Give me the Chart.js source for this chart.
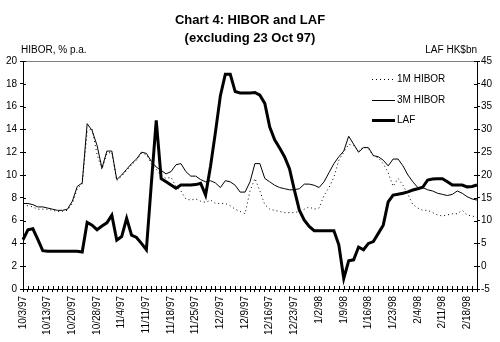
<!DOCTYPE html>
<html lang="en">
<head>
    <meta charset="UTF-8">
    <title>Chart 4: HIBOR and LAF</title>
    <script src="https://cdnjs.cloudflare.com/ajax/libs/Chart.js/4.4.0/chart.umd.min.js"></script>
    <style>
        html, body { margin: 0; padding: 0; background: #fff; }
        #chart4 { display: block; }
    </style>
</head>
<body>
    <canvas id="chart4" width="500" height="342"></canvas>

    <script>
        // trading days, 23 Oct 97 left out
        const dates = [
            '10/3/97', '10/6/97', '10/7/97', '10/8/97', '10/9/97', '10/13/97', '10/14/97', '10/15/97', '10/16/97', '10/17/97',
            '10/20/97', '10/21/97', '10/22/97', '10/24/97', '10/27/97', '10/28/97', '10/29/97', '10/30/97', '10/31/97',
            '11/3/97', '11/4/97', '11/5/97', '11/6/97', '11/7/97', '11/10/97', '11/11/97', '11/12/97', '11/13/97', '11/14/97',
            '11/17/97', '11/18/97', '11/19/97', '11/20/97', '11/21/97', '11/24/97', '11/25/97', '11/26/97', '11/27/97', '11/28/97',
            '12/1/97', '12/2/97', '12/3/97', '12/4/97', '12/5/97', '12/8/97', '12/9/97', '12/10/97', '12/11/97', '12/12/97',
            '12/15/97', '12/16/97', '12/17/97', '12/18/97', '12/19/97', '12/22/97', '12/23/97', '12/24/97', '12/29/97', '12/30/97', '12/31/97',
            '1/2/98', '1/5/98', '1/6/98', '1/7/98', '1/8/98', '1/9/98', '1/12/98', '1/13/98', '1/14/98', '1/15/98', '1/16/98',
            '1/19/98', '1/20/98', '1/21/98', '1/22/98', '1/23/98', '1/26/98', '1/27/98',
            '2/2/98', '2/3/98', '2/4/98', '2/5/98', '2/6/98', '2/9/98', '2/10/98', '2/11/98', '2/12/98', '2/13/98',
            '2/16/98', '2/17/98', '2/18/98', '2/19/98', '2/20/98'
        ];

        // % p.a.
        const hibor1m = [
            7.3, 7.3, 7.2, 7.0, 7.0, 7.0, 6.9, 6.8, 6.8, 6.9,
            7.5, 8.8, 9.2, 13.8, 14.1, 11.8, 10.5, 11.9, 12.0,
            9.5, 9.9, 10.4, 10.9, 11.3, 11.9, 11.8, 11.0, 10.5, 9.9,
            9.7, 9.8, 9.0, 8.6, 7.9, 7.8, 7.9, 7.7, 7.6, 7.8,
            7.5, 7.5, 7.5, 7.3, 7.0, 6.8, 6.6, 8.6, 9.7, 8.6,
            7.4, 7.0, 6.9, 6.8, 6.7, 6.7, 6.7, 6.8, 7.0, 7.2, 7.0,
            7.1, 8.2, 8.9, 9.8, 11.3, 12.0, 12.7, 12.6, 12.1, 12.5, 12.3,
            11.7, 11.5, 11.0, 10.2, 9.0, 9.7, 9.1,
            8.3, 7.4, 7.1, 6.9, 6.9, 6.7, 6.5, 6.4, 6.5, 6.6,
            6.6, 6.9, 6.5, 6.4, 6.3
        ];

        const hibor3m = [
            7.5, 7.5, 7.4, 7.2, 7.2, 7.1, 7.0, 6.9, 6.9, 7.0,
            7.7, 9.0, 9.3, 14.5, 13.9, 12.6, 10.6, 12.1, 12.1,
            9.6, 10.0, 10.5, 11.0, 11.4, 12.0, 11.9, 11.2, 10.7, 10.4,
            10.1, 10.3, 10.9, 11.0, 10.3, 9.9, 9.9, 9.6, 9.4, 9.5,
            9.3, 8.9, 9.5, 9.4, 9.1, 8.5, 8.5, 9.4, 11.0, 11.0,
            9.7, 9.4, 9.1, 8.9, 8.8, 8.7, 8.7, 8.8, 9.2, 9.2, 9.1,
            8.9, 9.4, 10.2, 11.0, 11.6, 12.1, 13.4, 12.7, 12.0, 12.4, 12.4,
            11.7, 11.6, 11.3, 10.8, 11.4, 11.4, 10.8,
            10.0, 9.4, 8.9, 8.9, 8.7, 8.6, 8.4, 8.3, 8.2, 8.3,
            8.6, 8.4, 8.1, 7.9, 7.8
        ];

        // HK$bn
        const laf = [
            5.8, 8.0, 8.2, 5.9, 3.4, 3.3, 3.3, 3.3, 3.3, 3.3,
            3.3, 3.3, 3.1, 9.6, 9.0, 8.0, 8.8, 9.5, 11.2,
            5.7, 6.5, 10.5, 6.8, 6.3, 5.0, 3.6, 18.0, 32.0, 19.2,
            18.5, 17.8, 17.1, 17.8, 17.8, 17.8, 17.9, 18.2, 15.6, 21.9,
            29.4, 37.4, 42.1, 42.1, 38.3, 38.0, 38.0, 38.0, 38.1, 37.5,
            35.7, 30.5, 27.7, 25.9, 24.0, 21.4, 16.7, 12.3, 10.1, 8.7, 7.8,
            7.8, 7.8, 7.8, 7.8, 4.7, -2.7, 1.2, 1.4, 4.2, 3.6, 5.0,
            5.4, 7.2, 9.0, 14.1, 15.6, 15.8, 16.0,
            16.3, 16.7, 17.0, 17.3, 18.9, 19.1, 19.2, 19.2, 18.5, 17.8,
            17.8, 17.8, 17.4, 17.5, 17.8
        ];

        const FONT = "'Liberation Sans', Arial, sans-serif";

        // tick marks cross the axis like in the original chart
        const crossTicks = {
            id: 'crossTicks',
            afterDatasetsDraw(chart) {
                const c = chart.ctx;
                const area = chart.chartArea;
                c.save();
                c.strokeStyle = '#000';
                c.lineWidth = 1;
                c.beginPath();
                const x = chart.scales.x;
                x.ticks.forEach((t, i) => {
                    const px = Math.round(x.getPixelForTick(i)) + 0.5;
                    c.moveTo(px, area.bottom);
                    c.lineTo(px, area.bottom - 3);
                });
                const y = chart.scales.y;
                y.ticks.forEach((t, i) => {
                    const py = Math.round(y.getPixelForTick(i)) + 0.5;
                    c.moveTo(area.left, py);
                    c.lineTo(area.left + 3, py);
                });
                const y2 = chart.scales.y2;
                y2.ticks.forEach((t, i) => {
                    const py = Math.round(y2.getPixelForTick(i)) + 0.5;
                    c.moveTo(area.right, py);
                    c.lineTo(area.right - 3, py);
                });
                c.stroke();
                c.restore();
            }
        };

        // unit labels above the axes and the legend box
        const labelsAndLegend = {
            id: 'labelsAndLegend',
            afterDraw(chart) {
                const c = chart.ctx;
                c.save();
                c.fillStyle = '#000';
                c.font = '10px ' + FONT;
                c.textBaseline = 'middle';
                c.textAlign = 'left';
                c.fillText('HIBOR, % p.a.', 21, 50);
                c.textAlign = 'right';
                c.fillText('LAF HK$bn', 477, 50);

                const rows = [79, 100, 120];
                c.textAlign = 'left';
                chart.data.datasets.forEach((ds, i) => {
                    c.beginPath();
                    c.strokeStyle = ds.borderColor;
                    c.lineWidth = ds.borderWidth;
                    c.setLineDash(ds.borderDash || []);
                    c.moveTo(372, rows[i] + 0.5);
                    c.lineTo(395, rows[i] + 0.5);
                    c.stroke();
                    c.setLineDash([]);
                    c.fillText(ds.label, 397, rows[i]);
                });
                c.restore();
            }
        };

        const ctx = document.getElementById('chart4').getContext('2d');
        const chart4 = new Chart(ctx, {
            type: 'line',
            data: {
                labels: dates,
                datasets: [
                    {
                        label: '1M HIBOR',
                        data: hibor1m,
                        borderColor: '#000',
                        borderWidth: 1,
                        borderDash: [1, 3],
                        yAxisID: 'y'
                    },
                    {
                        label: '3M HIBOR',
                        data: hibor3m,
                        borderColor: '#000',
                        borderWidth: 1,
                        yAxisID: 'y'
                    },
                    {
                        label: 'LAF',
                        data: laf,
                        borderColor: '#000',
                        borderWidth: 3,
                        yAxisID: 'y2'
                    }
                ]
            },
            options: {
                responsive: false,
                animation: false,
                layout: { padding: 0 },
                elements: {
                    point: { radius: 0 },
                    line: { tension: 0, fill: false }
                },
                plugins: {
                    legend: { display: false },
                    tooltip: { enabled: false },
                    title: {
                        display: true,
                        text: ['Chart 4: HIBOR and LAF', '(excluding 23 Oct 97)'],
                        color: '#000',
                        font: { family: FONT, size: 13, weight: 'bold', lineHeight: 1.4 },
                        padding: { top: 11, bottom: 13.6 }
                    }
                },
                scales: {
                    x: {
                        type: 'category',
                        offset: false,
                        grid: { drawOnChartArea: false, tickLength: 3, color: '#000', offset: false },
                        border: { color: '#000' },
                        ticks: {
                            autoSkip: false,
                            minRotation: 90,
                            maxRotation: 90,
                            padding: 4,
                            color: '#000',
                            font: { family: FONT, size: 10 },
                            callback: function (value, index) {
                                return index % 5 === 0 ? this.getLabelForValue(value) : '';
                            }
                        },
                        afterFit: function (scale) { scale.height = 53; }
                    },
                    y: {
                        position: 'left',
                        min: 0,
                        max: 20,
                        grid: {
                            tickLength: 3,
                            tickColor: '#000',
                            color: (c) => c.tick && c.tick.value === 20 ? '#808080' : 'rgba(0,0,0,0)'
                        },
                        border: { color: '#000' },
                        ticks: {
                            stepSize: 2,
                            padding: 3,
                            color: '#000',
                            font: { family: FONT, size: 10 }
                        },
                        afterFit: function (scale) { scale.width = 23; }
                    },
                    y2: {
                        position: 'right',
                        min: -5,
                        max: 45,
                        grid: { drawOnChartArea: false, tickLength: 3, color: '#000' },
                        border: { color: '#000' },
                        ticks: {
                            stepSize: 5,
                            padding: 1,
                            color: '#000',
                            font: { family: FONT, size: 10 }
                        },
                        afterFit: function (scale) { scale.width = 23; }
                    }
                }
            },
            plugins: [crossTicks, labelsAndLegend]
        });
    </script>
</body>
</html>
